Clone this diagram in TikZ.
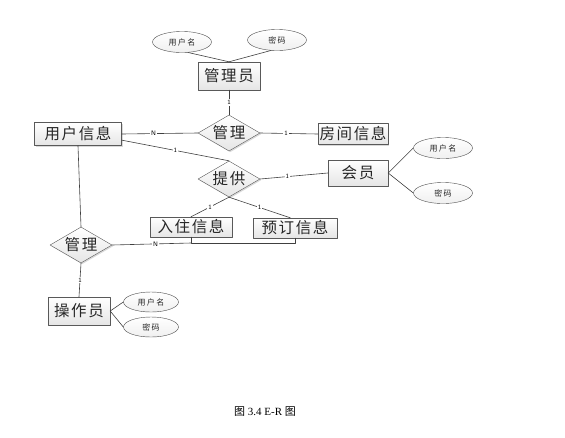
\documentclass[tikz,border=0pt]{standalone}
\usepackage{fontspec}
\setmainfont{Liberation Serif}
\newfontfamily\cjk{Noto Sans CJK SC}
\newfontfamily\cjkwide[LetterSpace=10]{Noto Sans CJK SC}
\newfontfamily\cjksmall[LetterSpace=18]{Noto Sans CJK SC}
\usetikzlibrary{shapes.geometric,shadows}

\begin{document}
\begin{tikzpicture}[x=1pt, y=-1pt, font=\cjk, line join=round, line cap=round]
	\tikzset{
	entity/.style={draw=black!65, rectangle, top color=white, bottom color=black!10,
		drop shadow={shadow xshift=1.2pt,shadow yshift=-1.2pt,opacity=.3},
		minimum height=24pt, inner sep=0pt, text=black!85,
		font=\cjkwide\fontsize{15.5}{15.5}\selectfont},
	relation/.style={draw=black!65, diamond, top color=white, bottom color=black!10,
		drop shadow={shadow xshift=1.2pt,shadow yshift=-1.2pt,opacity=.3},
		minimum width=62pt, minimum height=36pt, inner sep=0pt, aspect=1.7, text=black!85,
		font=\cjkwide\fontsize{15.5}{15.5}\selectfont},
	attr/.style={draw=black!70, ellipse, top color=white, bottom color=black!6,
		minimum width=59pt, minimum height=21pt, inner sep=0pt, text=black!85,
		font=\cjksmall\fontsize{8}{8}\selectfont},
	card/.style={font=\fontsize{6.5}{6.5}\selectfont\sffamily, inner sep=1pt},
	link/.style={draw=black!75, line width=.6pt}
	}
	\useasboundingbox (0,0) rectangle (565,437);

	% entities
	\node[entity, minimum width=62pt, minimum height=28pt] (admin) at (229,76) {管理员};
	\node[entity, minimum width=87pt, minimum height=23pt] (user) at (78,134) {用户信息};
	\node[entity, minimum width=70pt, minimum height=21pt] (room) at (353,134) {房间信息};
	\node[entity, minimum width=60pt, minimum height=26pt] (member) at (358,173) {会员};
	\node[entity, minimum width=82pt, minimum height=20pt] (checkin) at (191,227) {入住信息};
	\node[entity, minimum width=84pt, minimum height=20pt] (book) at (295,228) {预订信息};
	\node[entity, minimum width=62pt, minimum height=28pt] (oper) at (79,311) {操作员};

	% relations
	\node[relation] (manage) at (229,133) {管理};
	\node[relation] (offer) at (229,179) {提供};
	\node[relation] (manage2) at (81,245) {管理};

	% attributes
	\node[attr] (adminname) at (182,42) {用户名};
	\node[attr] (adminpwd) at (277,40) {密码};
	\node[attr] (membername) at (443,148) {用户名};
	\node[attr] (memberpwd) at (443,193) {密码};
	\node[attr, minimum width=55pt, minimum height=20pt] (opername) at (151,302) {用户名};
	\node[attr, minimum width=55pt, minimum height=20pt] (operpwd) at (151,327) {密码};

	% attribute links
	\draw[link] (adminname.-60) -- (admin.north);
	\draw[link] (adminpwd.-120) -- (admin.north);
	\draw[link] (member.east) -- (membername.west);
	\draw[link] (member.east) -- (memberpwd.west);
	\draw[link] (oper.east) -- (opername.west);
	\draw[link] (oper.east) -- (operpwd.west);

	% relation links
	\draw[link] (admin.south) -- node[card, fill=white]{1} (manage.north);
	\draw[link] (user.east) -- node[card, fill=white, pos=.42]{N} (manage.west);
	\draw[link] (manage.east) -- node[card, fill=white, pos=.45]{1} (room.west);
	\draw[link] (user.-8) -- node[card, fill=white, pos=.5]{1} (offer.north);
	\draw[link] (offer.east) -- node[card, fill=white, pos=.4]{1} (member.west);
	\draw[link] (offer.south) -- node[card, fill=white]{1} (checkin.north);
	\draw[link] (offer.south) -- node[card, fill=white]{1} (book.115);
	\draw[link] (user.south) -- (manage2.north);
	\draw[link] (manage2.south) -- node[card, fill=white, pos=.5]{1} (oper.north);
	\coordinate (join) at (checkin.south |- 0,243);
	\draw[link] (manage2.east) -- node[card, fill=white, pos=.55]{N} (join);
	\draw[link] (checkin.south) -- (join) -| (book.south);

	% caption
	\node[font=\fontsize{11}{11}\selectfont] (caption) at (265,412) {{\cjk 图} 3.4 E-R {\cjk 图}};
\end{tikzpicture}
\end{document}
